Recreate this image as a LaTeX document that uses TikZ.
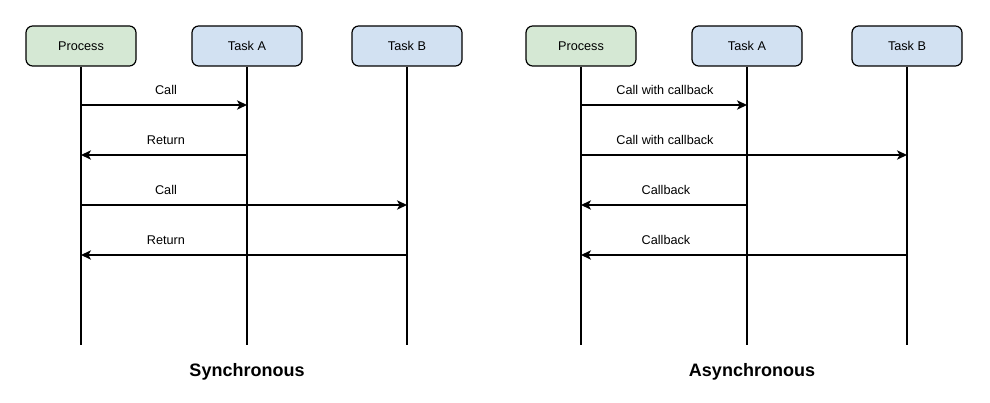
\documentclass[tikz,border=0pt]{standalone}
\usepackage{fontspec}
\setmainfont{Liberation Sans}
\usetikzlibrary{arrows.meta,positioning}
\definecolor{sqink}{HTML}{000000}
\definecolor{sqpage}{HTML}{FFFFFF}
\definecolor{sqprocfill}{HTML}{D5E8D4}
\definecolor{sqtaskfill}{HTML}{D2E1F2}
\tikzset{
  sqactor/.style={
    draw=sqink,
    rounded corners=5pt,
    line width=0.9pt,
    minimum width=82.5pt,
    minimum height=30pt,
    inner sep=0pt,
    font=\fontsize{9.5pt}{11pt}\selectfont,
    text=sqink
  },
  sqproc/.style={
    sqactor,
    fill=sqprocfill
  },
  sqtask/.style={
    sqactor,
    fill=sqtaskfill
  },
  sqlife/.style={
    line width=1.1pt,
    color=sqink
  },
  sqmsg/.style={
    -{Stealth[length=7.5pt,width=7pt,inset=2pt]},
    line width=1.1pt,
    color=sqink
  },
  sqlabel/.style={
    font=\fontsize{9.5pt}{11pt}\selectfont,
    text=sqink,
    inner sep=0pt
  },
  sqtitle/.style={
    font=\fontsize{13.5pt}{16pt}\selectfont\bfseries,
    text=sqink,
    inner sep=0pt
  }
}

\begin{document}
\begin{tikzpicture}[x=0.75pt,y=-0.75pt]
  \useasboundingbox[fill=sqpage] (0,0) rectangle (990,403);

  \node[sqproc] (procS) at (81,46) {Process};
  \node[sqtask] (taskAS) at (247,46) {Task A};
  \node[sqtask] (taskBS) at (407,46) {Task B};

  \node[sqproc] (procA) at (581,46) {Process};
  \node[sqtask] (taskAA) at (747,46) {Task A};
  \node[sqtask] (taskBA) at (907,46) {Task B};

  \coordinate (endS) at (0,345);
  \coordinate (endA) at (0,345);

  \draw[sqlife] (procS.south) -- (procS.south |- endS);
  \draw[sqlife] (taskAS.south) -- (taskAS.south |- endS);
  \draw[sqlife] (taskBS.south) -- (taskBS.south |- endS);
  \draw[sqlife] (procA.south) -- (procA.south |- endA);
  \draw[sqlife] (taskAA.south) -- (taskAA.south |- endA);
  \draw[sqlife] (taskBA.south) -- (taskBA.south |- endA);

  \draw[sqmsg] (procS.south |- 0,105) -- (taskAS.south |- 0,105);
  \draw[sqmsg] (taskAS.south |- 0,155) -- (procS.south |- 0,155);
  \draw[sqmsg] (procS.south |- 0,205) -- (taskBS.south |- 0,205);
  \draw[sqmsg] (taskBS.south |- 0,255) -- (procS.south |- 0,255);

  \node[sqlabel] (callAS) at (166,90) {Call};
  \node[sqlabel] (retAS) at (166,140) {Return};
  \node[sqlabel] (callBS) at (166,190) {Call};
  \node[sqlabel] (retBS) at (166,240) {Return};

  \draw[sqmsg] (procA.south |- 0,105) -- (taskAA.south |- 0,105);
  \draw[sqmsg] (procA.south |- 0,155) -- (taskBA.south |- 0,155);
  \draw[sqmsg] (taskAA.south |- 0,205) -- (procA.south |- 0,205);
  \draw[sqmsg] (taskBA.south |- 0,255) -- (procA.south |- 0,255);

  \node[sqlabel] (callAA) at (665,90) {Call with callback};
  \node[sqlabel] (callBA) at (665,140) {Call with callback};
  \node[sqlabel] (backAA) at (666,190) {Callback};
  \node[sqlabel] (backBA) at (666,240) {Callback};

  \node[sqtitle] (titleS) at (247,372) {Synchronous};
  \node[sqtitle] (titleA) at (752,372) {Asynchronous};
\end{tikzpicture}
\end{document}
